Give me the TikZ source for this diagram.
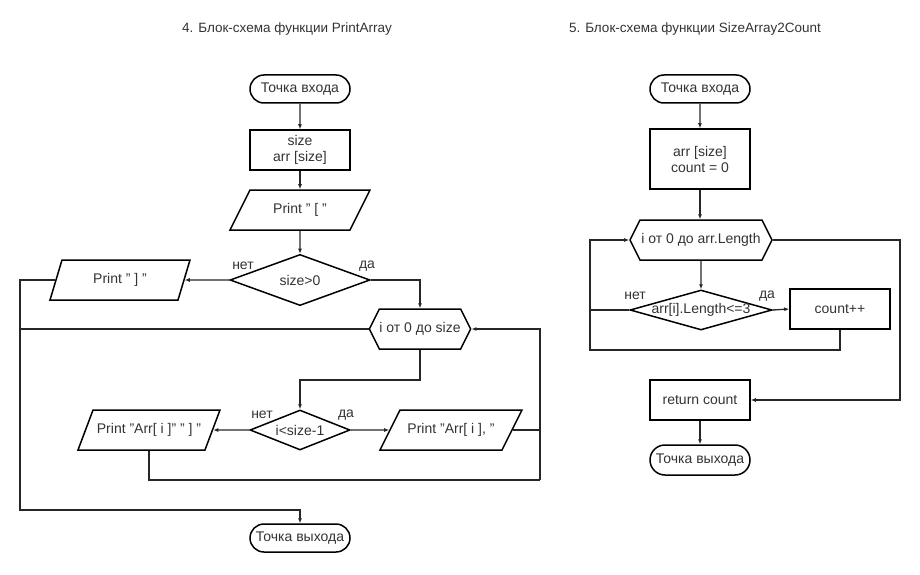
\documentclass[tikz,border=0pt]{standalone}
\usepackage{fontspec}
\setmainfont{Liberation Sans}
\usetikzlibrary{arrows.meta,shapes.geometric,shapes.misc,shapes.symbols}

\begin{document}
\begin{tikzpicture}[
  x=1pt, y=-1pt,
  >={Latex[length=5pt,width=4pt]},
  every node/.style={font=\fontsize{14}{16}\selectfont, text=black!80},
  term/.style={rounded rectangle, draw=black, line width=1.5pt,
    minimum width=100pt, minimum height=28pt, inner sep=0pt},
  proc/.style={rectangle, draw=black, line width=1.5pt, align=center,
    minimum width=100pt, minimum height=40pt, inner sep=0pt},
  io/.style 2 args={trapezium, trapezium left angle=#1,
    trapezium right angle=#2, trapezium stretches body, draw=black,
    line width=1.5pt, minimum width=140pt, text height=23.8pt,
    text depth=16.2pt, inner sep=0pt},
  dec/.style={diamond, draw=black, line width=1.5pt,
    minimum width=100pt, minimum height=40pt, inner sep=0pt},
  loopbox/.style={signal, signal to=west and east,
    signal pointer angle=126.87, draw=black, line width=1.5pt,
    minimum width=100pt, minimum height=40pt, inner sep=0pt},
  flow/.style={draw=black!85, line width=1.3pt},
  ttl/.style={font=\fontsize{13.5}{16}\selectfont},
  ans/.style={inner sep=1pt},
]

\useasboundingbox (0,0) rectangle (920,575);

% ── Titles ────────────────────────────────────────────────────────────────────
\node[ttl] (title1) at (287,29) {4. Блок-схема функции PrintArray};
\node[ttl] (title2) at (695,29) {5. Блок-схема функции SizeArray2Count};

% ── PrintArray: blocks ────────────────────────────────────────────────────────
\node[term] (start1) at (300,89) {Точка входа};
\node[proc] (init1) at (300,150) {size\\arr [size]};
\node[io={63.4}{116.6}] (open1) at (300,210) {Print " [ "};
\node[dec, minimum width=140pt] (chk1) at (300,280) {size>0};
\node[io={73.3}{106.7}] (close1) at (120,280) {Print " ] "};
\node[loopbox] (loop1) at (420,329) {i от 0 до size};
\node[dec] (chk2) at (300,430) {\makebox[0pt]{i<size-1}};
\node[io={69.4}{110.6}, minimum width=142pt] (last1) at (149,430)
  {Print "Arr[ i ]" " ] "};
\node[io={63.4}{116.6}, minimum width=142pt] (item1) at (451,430)
  {Print "Arr[ i ], "};
\node[term] (end1) at (300,538) {Точка выхода};

\node[ans] (no1) at (243,266) {нет};
\node[ans] (yes1) at (367,266) {да};
\node[ans] (no2) at (262,415) {нет};
\node[ans] (yes2) at (346,415) {да};

% track corners
\coordinate (lbot1) at (20,510);
\coordinate (jn1) at (300,380);
\coordinate (rbot1) at (540,480);

% ── PrintArray: connectors ───────────────────────────────────────────────────
\draw[flow, ->] (start1) -- (init1);
\draw[flow, ->] (init1) -- (open1);
\draw[flow, ->] (open1) -- (chk1);
\draw[flow, ->] (chk1.west) -- (close1.east);
\draw[flow, ->] (chk1.east) -| (loop1.north);
\draw[flow, ->] (close1.west) -| (lbot1) -| (end1.north);
\draw[flow] (loop1.west) -- (loop1.west -| lbot1);
\draw[flow, ->] (loop1.south) |- (jn1) -- (chk2.north);
\draw[flow, ->] (chk2.west) -- (last1.east);
\draw[flow, ->] (chk2.east) -- (item1.west);
\draw[flow] (item1.east) -- (item1.east -| rbot1);
\draw[flow] (last1.south) |- (rbot1);
\draw[flow, ->] (rbot1) |- (loop1.east);

% ── SizeArray2Count: blocks ──────────────────────────────────────────────────
\node[term] (start2) at (700,89) {Точка входа};
\node[proc, minimum height=60pt] (init2) at (700,159) {arr [size]\\count = 0};
\node[loopbox, minimum width=142pt] (loop2) at (701,240) {i от 0 до arr.Length};
\node[dec, minimum width=142pt] (chk3) at (701,310)
  {\makebox[0pt]{arr[i].Length<=3}};
\node[proc] (inc2) at (840,309) {count++};
\node[proc] (ret2) at (700,400) {return count};
\node[term, minimum height=30pt] (end2) at (700,460) {Точка выхода};

\node[ans] (no3) at (635,296) {нет};
\node[ans] (yes3) at (767,296) {да};

% track corners
\coordinate (lbot2) at (590,350);
\coordinate (rbot2) at (900,400);

% ── SizeArray2Count: connectors ──────────────────────────────────────────────
\draw[flow, ->] (start2) -- (init2);
\draw[flow, ->] (init2) -- (init2 |- loop2.north);
\draw[flow, ->] (loop2) -- (chk3);
\draw[flow, ->] (chk3.east) -- (inc2.west);
\draw[flow] (chk3.west) -- (chk3.west -| lbot2);
\draw[flow, ->] (inc2.south) |- (lbot2) |- (loop2.west);
\draw[flow, ->] (loop2.east) -| (rbot2) -- (ret2.east);
\draw[flow, ->] (ret2) -- (end2);

\end{tikzpicture}
\end{document}
